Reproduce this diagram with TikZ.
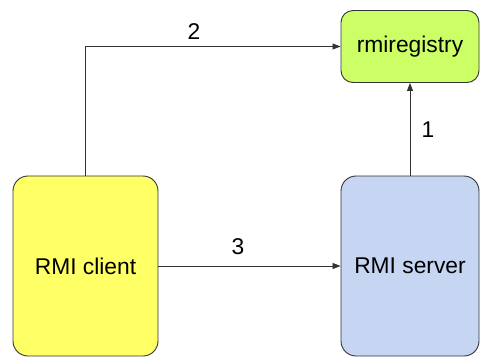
\documentclass[tikz,border=0pt]{standalone}
\usepackage{fontspec}
\setmainfont{Liberation Sans}
\usetikzlibrary{arrows.meta}
\definecolor{clientc}{HTML}{FFFF66}
\definecolor{regc}{HTML}{CCFF66}
\definecolor{servc}{HTML}{C6D5F2}
\definecolor{edgec}{HTML}{333333}
\tikzset{
  box/.style={draw=edgec, line width=0.9pt, rounded corners=15pt, inner sep=0pt,
    font=\fontsize{22.8}{26}\selectfont, text=black},
  conn/.style={draw=edgec, line width=0.8pt, -{Triangle[length=8pt,width=6pt]}},
  lbl/.style={font=\fontsize{22.8}{26}\selectfont, text=black, inner sep=0pt}
}
\begin{document}
\begin{tikzpicture}[x=1pt,y=-1pt]
\useasboundingbox (0,0) rectangle (480,357);
\node[box, fill=clientc, minimum width=145pt, minimum height=180pt] (client) at (85.5,266) {RMI client};
\node[box, fill=servc, minimum width=138pt, minimum height=180pt] (server) at (410,266) {RMI server};
\node[box, fill=regc, rounded corners=12pt, minimum width=138pt, minimum height=72pt] (reg) at (410,46.5) {rmiregistry};
\draw[conn] (client.north) |- (reg.west);
\draw[conn] (server.north) -- (reg.south);
\draw[conn] (client.east) -- (server.west);
\node[lbl] (l2) at (194,32) {2};
\node[lbl] (l1) at (428,130) {1};
\node[lbl] (l3) at (238,247) {3};
\end{tikzpicture}
\end{document}
